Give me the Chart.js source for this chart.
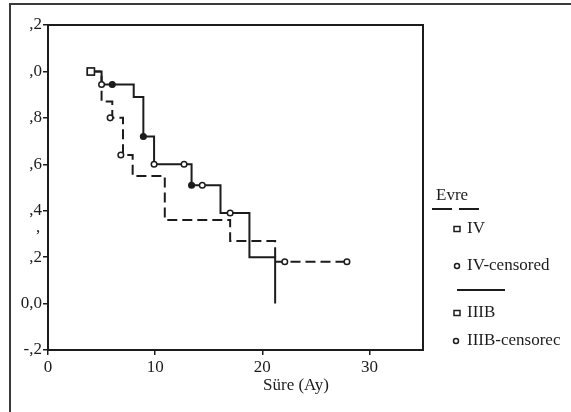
<!DOCTYPE html>
<html>
<head>
<meta charset="utf-8">
<script src="https://cdn.jsdelivr.net/npm/chart.js@4"></script>
<style>
  html, body { margin: 0; padding: 0; background: #fff; }
</style>
</head>
<body>
<canvas id="km" width="571" height="412"></canvas>
<script>
// Kaplan-Meier survival by stage (Evre)

const xTicks = [0, 10, 20, 30];
const yTicks = [-0.2, 0, 0.2, 0.4, 0.6, 0.8, 1.0, 1.2];
const yTickLabels = ['-,2', '0,0', ',2', ',4', ',6', ',8', ',0', ',2'];

// IV - dashed curve
const ivTime = [4, 5, 6, 7, 7.9, 10.9, 17, 21.2, 27.9];
const ivSurv = [1.0, 0.87, 0.80, 0.64, 0.55, 0.36, 0.27, 0.18, 0.18];
const ivCensTime = [5.8, 6.8, 22.1, 27.9];
const ivCensSurv = [0.80, 0.64, 0.18, 0.18];

// IIIB - solid curve
const iiibTime = [4, 5, 8, 8.9, 9.9, 13.4, 16.1, 18.8, 21.2];
const iiibSurv = [1.0, 0.944, 0.89, 0.72, 0.60, 0.51, 0.39, 0.20, 0.0];
const iiibCensTime = [5, 6, 8.9, 9.9, 12.7, 13.4, 14.4, 17];
const iiibCensSurv = [0.944, 0.944, 0.72, 0.60, 0.60, 0.51, 0.51, 0.39];

const ink = '#1c1c1c';
const serif = '"Liberation Serif", "Times New Roman", serif';

const pts = (xs, ys) => xs.map((x, i) => ({ x: x, y: ys[i] }));

// frame, axis title and the SPSS style legend
const extras = {
    id: 'extras',
    afterDraw(chart) {
        const ctx = chart.ctx;
        const a = chart.chartArea;
        ctx.save();

        // outer frame (cut at right and bottom)
        ctx.strokeStyle = '#3a3a3a';
        ctx.lineWidth = 2;
        ctx.beginPath();
        ctx.moveTo(10, 412);
        ctx.lineTo(10, 4);
        ctx.lineTo(571, 4);
        ctx.stroke();

        // plot box
        ctx.strokeStyle = ink;
        ctx.strokeRect(a.left, a.top, a.right - a.left, a.bottom - a.top);

        ctx.fillStyle = ink;
        ctx.font = '17px ' + serif;
        ctx.textBaseline = 'middle';
        ctx.textAlign = 'center';
        ctx.fillText('Süre (Ay)', 296, 386);
        ctx.fillText(',', 38, 228);

        // legend
        ctx.textAlign = 'left';
        ctx.fillText('Evre', 436, 196);
        ctx.lineWidth = 2;
        ctx.setLineDash([20, 7]);
        ctx.beginPath();
        ctx.moveTo(432, 209);
        ctx.lineTo(479, 209);
        ctx.stroke();
        ctx.setLineDash([]);

        ctx.beginPath();
        ctx.moveTo(457, 290);
        ctx.lineTo(505, 290);
        ctx.stroke();

        const square = (x, y) => {
            ctx.lineWidth = 1.5;
            ctx.fillStyle = '#fff';
            ctx.fillRect(x - 3, y - 2.5, 6, 5);
            ctx.strokeRect(x - 3, y - 2.5, 6, 5);
            ctx.fillStyle = ink;
        };
        const circle = (x, y) => {
            ctx.lineWidth = 1.5;
            ctx.beginPath();
            ctx.arc(x, y, 2.5, 0, Math.PI * 2);
            ctx.fillStyle = '#fff';
            ctx.fill();
            ctx.stroke();
            ctx.fillStyle = ink;
        };

        square(457, 229);
        ctx.fillText('IV', 467, 229);
        circle(457, 266);
        ctx.fillText('IV-censored', 467, 266);
        square(457, 313);
        ctx.fillText('IIIB', 467, 313);
        circle(456, 341);
        ctx.fillText('IIIB-censorec', 467, 341);

        ctx.restore();
    }
};

const startSquare = ctx => ctx.dataIndex === 0 ? 5 : 0;

new Chart(document.getElementById('km'), {
    type: 'line',
    data: {
        datasets: [
            {
                label: 'IV',
                data: pts(ivTime, ivSurv),
                stepped: 'before',
                borderColor: ink,
                borderWidth: 2,
                borderDash: [10, 5],
                pointStyle: 'rect',
                pointRadius: startSquare,
                pointBackgroundColor: '#fff',
                pointBorderColor: ink,
                pointBorderWidth: 1.5,
                order: 2
            },
            {
                label: 'IIIB',
                data: pts(iiibTime, iiibSurv),
                stepped: 'before',
                borderColor: ink,
                borderWidth: 2,
                pointStyle: 'rect',
                pointRadius: startSquare,
                pointBackgroundColor: '#fff',
                pointBorderColor: ink,
                pointBorderWidth: 1.5,
                order: 2
            },
            {
                type: 'scatter',
                label: 'IV-censored',
                data: pts(ivCensTime, ivCensSurv),
                showLine: false,
                pointStyle: 'circle',
                pointRadius: 2.8,
                pointBackgroundColor: '#fff',
                pointBorderColor: ink,
                pointBorderWidth: 1.5,
                order: 1
            },
            {
                type: 'scatter',
                label: 'IIIB-censored',
                data: pts(iiibCensTime, iiibCensSurv),
                showLine: false,
                pointStyle: 'circle',
                pointRadius: 2.8,
                // the ones sitting on a step corner look filled in the print
                pointBackgroundColor: [ '#fff', ink, ink, '#fff', '#fff', ink, '#fff', '#fff' ],
                pointBorderColor: ink,
                pointBorderWidth: 1.5,
                order: 1
            }
        ]
    },
    options: {
        responsive: false,
        animation: false,
        layout: { padding: { top: 25, right: 148, left: 0, bottom: 0 } },
        plugins: {
            legend: { display: false },
            tooltip: { enabled: false }
        },
        scales: {
            x: {
                type: 'linear',
                min: 0,
                max: 35,
                afterBuildTicks: s => { s.ticks = xTicks.map(v => ({ value: v })); },
                afterFit: s => { s.height = 62; },
                border: { display: false },
                grid: { display: true, drawOnChartArea: false, drawTicks: true, tickLength: 5, color: ink, lineWidth: 1.5 },
                ticks: { color: ink, padding: 2, maxRotation: 0, font: { family: serif, size: 17 } }
            },
            y: {
                type: 'linear',
                min: -0.2,
                max: 1.2,
                afterBuildTicks: s => { s.ticks = yTicks.map(v => ({ value: v })); },
                afterFit: s => { s.width = 48; },
                border: { display: false },
                grid: { display: true, drawOnChartArea: false, drawTicks: true, tickLength: 5, color: ink, lineWidth: 1.5 },
                ticks: {
                    color: ink,
                    padding: 1,
                    font: { family: serif, size: 17 },
                    callback: (v, i) => yTickLabels[i]
                }
            }
        }
    },
    plugins: [extras]
});
</script>
</body>
</html>
